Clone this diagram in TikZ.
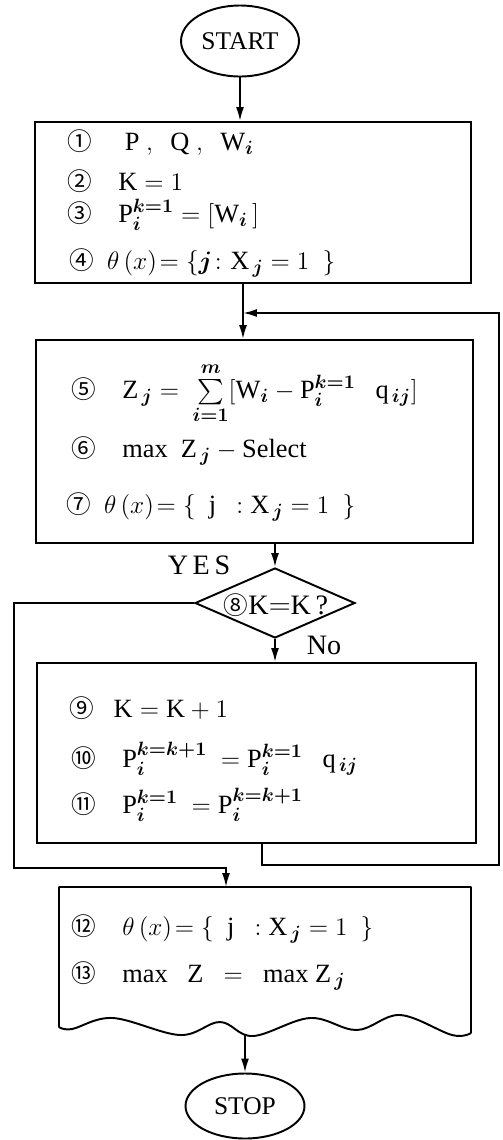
\documentclass[tikz,border=0pt]{standalone}
\usepackage{amsmath,bm}
\usepackage{fontspec}
\setmainfont{Liberation Serif}
\newfontfamily\circfont{Noto Sans CJK JP}
\usetikzlibrary{arrows.meta, positioning, shapes.geometric}
\newcommand{\cn}[1]{{\circfont\fontsize{14}{16}\selectfont\char\numexpr"245F+#1\relax}}

\begin{document}
\begin{tikzpicture}[
  x=0.02cm, y=-0.02cm,
  box/.style={draw, line width=1.1pt, inner sep=0pt},
  term/.style={draw, ellipse, line width=1.1pt, inner sep=0pt, font=\fontsize{14.5}{16}\selectfont},
  txt/.style={anchor=base west, inner sep=0pt, font=\fontsize{15}{17}\selectfont},
  lbl/.style={inner sep=0pt, font=\fontsize{16}{18}\selectfont},
  arr/.style={-{Latex[length=2.8mm,width=1.6mm]}, line width=1.1pt},
]
  \useasboundingbox (0,0) rectangle (503,1140);

  \node[term, minimum width=2.36cm, minimum height=1.42cm] (start) at (240,41) {START};

  \node[box, minimum width=8.72cm, minimum height=3.22cm] (b1) at (253,202.5) {};
  \node[txt] (l1) at (67,150) {\cn{1}\quad\ $\mathrm{P}\ ,\ \ \mathrm{Q}\ ,\ \ \mathrm{W}_{\bm i}$};
  \node[txt] (l2) at (67,190) {\cn{2}\quad $\mathrm{K}=1$};
  \node[txt] (l3) at (67,222) {\cn{3}\quad $\mathrm{P}_{\bm i}^{\bm{k=1}}=[\mathrm{W}_{\bm i}\,]$};
  \node[txt] (l4) at (69,269) {\cn{4}\ \ $\theta\,(x)\!=\{\bm{j}\colon\mathrm{X}_{\,\bm j}=1\ \ \}$};

  \coordinate (jn) at (243,313);
  \node[box, minimum width=8.74cm, minimum height=4.06cm] (b2) at (254.5,441.5) {};
  \node[txt] (l5) at (71,398) {\cn{5}\quad $\mathrm{Z}_{\,\bm j}=\ \sum\limits_{\bm{i=1}}^{\bm m}[\mathrm{W}_{\bm i}-\mathrm{P}_{\bm i}^{\bm{k=1}}\ \ \ \mathrm{q}_{\,\bm{ij}}]$};
  \node[txt] (l6) at (71,457) {\cn{6}\quad $\mathrm{max}\ \ \mathrm{Z}_{\,\bm j}-\mathrm{Select}$};
  \node[txt] (l7) at (66,513) {\cn{7}\ \ $\theta\,(x)\!=\{\ \ \mathrm{j}\ \ :\mathrm{X}_{\,\bm j}=1\ \ \}$};

  \node[draw, diamond, line width=1.1pt, inner sep=0pt, minimum width=3.2cm, minimum height=1.4cm] (d8) at (275,603) {};
  \node[lbl] (t8) at (276,605) {\cn{8}$\mathrm{K}{=}\mathrm{K}$\,?};
  \node[lbl] (yes) at (199,565) {Y\,E\,S};
  \node[lbl] (no) at (324,645) {No};

  \node[box, minimum width=8.78cm, minimum height=3.6cm] (b3) at (256.5,753) {};
  \node[txt] (l9) at (69,717) {\cn{9}\ \ \ $\mathrm{K}=\mathrm{K}+1$};
  \node[txt] (l10) at (71,767) {\cn{10}\quad $\mathrm{P}_{\bm i}^{\bm{k=k+1}}\ =\mathrm{P}_{\bm i}^{\bm{k=1}}\ \ \ \mathrm{q}_{\,\bm{ij}}$};
  \node[txt] (l11) at (71,813) {\cn{11}\quad $\mathrm{P}_{\bm i}^{\bm{k=1}}\ =\mathrm{P}_{\bm i}^{\bm{k=k+1}}$};

  % document box with wavy bottom
  \coordinate (b4in) at (226,887);
  \coordinate (b4out) at (245,1035);
  \draw[line width=1.1pt, line join=round]
    (59,1027) -- (59,887) -- (471,887) -- (471,1033)
    plot[smooth, tension=0.6] coordinates {(471,1033) (452,1035) (400,1015) (357,1030)
      (310,1018) (253,1036) (220,1022) (180,1035) (113,1018) (72,1029) (59,1027)};
  \node[txt] (l12) at (71,935) {\cn{12}\quad $\theta\,(x)\!=\{\ \ \mathrm{j}\ \ :\mathrm{X}_{\,\bm j}=1\ \ \}$};
  \node[txt] (l13) at (71,982) {\cn{13}\quad $\mathrm{max}\ \ \ \mathrm{Z}\ \ =\ \ \mathrm{max}\ \mathrm{Z}_{\,\bm j}$};

  \node[term, minimum width=2.38cm, minimum height=1.3cm] (stop) at (245,1106) {STOP};

  \coordinate (yl) at (14,868);
  \coordinate (fb) at (262,865);
  \coordinate (fr) at (499,865);

  \draw[arr] (start) -- (start |- b1.north);
  \draw[arr] (b1.south -| jn) -- (b2.north -| jn);
  \draw[arr] (b2.south -| d8.north) -- (d8.north);
  \draw[arr] (d8.south) -- (d8.south |- b3.north);
  \draw[arr] (d8.west) -- (d8.west -| yl) -- (yl) -- (b4in |- yl) -- (b4in);
  \draw[arr] (b3.south -| fb) -- (fb) -- (fr) -- (fr |- jn) -- (jn);
  \draw[arr] (b4out) -- (stop);
\end{tikzpicture}
\end{document}
